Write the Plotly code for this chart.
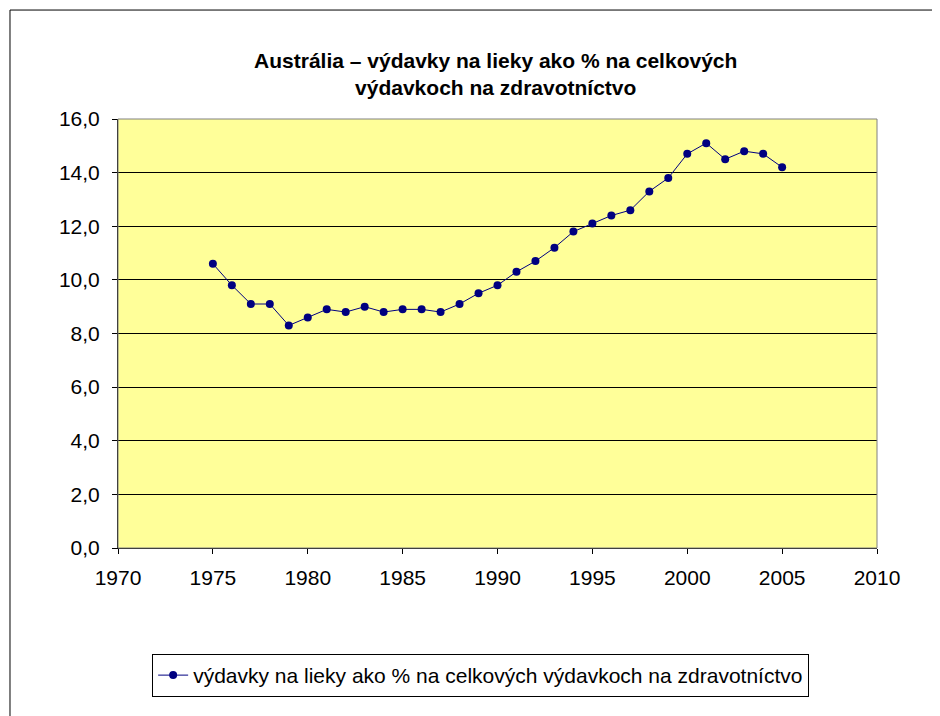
import plotly.graph_objects as go

years = list(range(1975, 2006))
values = [10.6, 9.8, 9.1, 9.1, 8.3, 8.6, 8.9, 8.8, 9.0, 8.8, 8.9, 8.9, 8.8,
          9.1, 9.5, 9.8, 10.3, 10.7, 11.2, 11.8, 12.1, 12.4, 12.6,
          13.3, 13.8, 14.7, 15.1, 14.5, 14.8, 14.7, 14.2]
series_name = "výdavky na lieky ako % na celkových výdavkoch na zdravotníctvo"
title_text = "Austrália – výdavky na lieky ako % na celkových<br>výdavkoch na zdravotníctvo"

fig = go.Figure()
fig.add_trace(go.Scatter(
    x=years, y=values, mode="lines+markers", name=series_name,
    line=dict(color="#000080", width=1),
    marker=dict(color="#000080", size=8),
    showlegend=True,
))

font_family = "Liberation Sans, Arial, sans-serif"
fig.update_layout(
    width=932, height=708,
    margin=dict(l=110, r=63, t=111, b=168),
    paper_bgcolor="white",
    plot_bgcolor="#FFFF99",
    separators=",.",
    font=dict(family=font_family, size=21, color="black"),
    title=dict(text="<b>" + title_text + "</b>", x=0.5233, xanchor="center",
               yref="container", y=1 - 60 / 708, yanchor="top",
               font=dict(family=font_family, size=21, color="black")),
    xaxis=dict(range=[1970, 2010], tickmode="linear", tick0=1970, dtick=5,
               showgrid=False, zeroline=False, showline=True, linecolor="black",
               linewidth=1, ticks="outside", ticklen=5, tickcolor="black",
               ticklabelstandoff=6,
               tickfont=dict(family=font_family, size=21, color="black")),
    yaxis=dict(range=[0, 16], tickmode="linear", tick0=0, dtick=2,
               tickformat=".1f", showgrid=True, gridcolor="#000000", gridwidth=1,
               zeroline=False, showline=True, linecolor="black", linewidth=1,
               ticks="outside", ticklen=5, tickcolor="black",
               ticklabelstandoff=8,
               tickfont=dict(family=font_family, size=21, color="black")),
    legend=dict(orientation="h", x=0.045, xanchor="left", y=-0.247, yanchor="top",
                bordercolor="black", borderwidth=1, bgcolor="white",
                font=dict(family=font_family, size=21, color="black")),
    showlegend=True,
    shapes=[
        dict(type="rect", xref="paper", yref="paper",
             x0=-0.1423, x1=1.0791, y0=-0.5, y1=1.254,
             line=dict(color="black", width=1), fillcolor="rgba(0,0,0,0)",
             layer="below"),
        dict(type="rect", xref="paper", yref="paper",
             x0=0, x1=1, y0=0, y1=1,
             line=dict(color="#808080", width=1), fillcolor="rgba(0,0,0,0)"),
    ],
)

fig.write_html("out.html")
